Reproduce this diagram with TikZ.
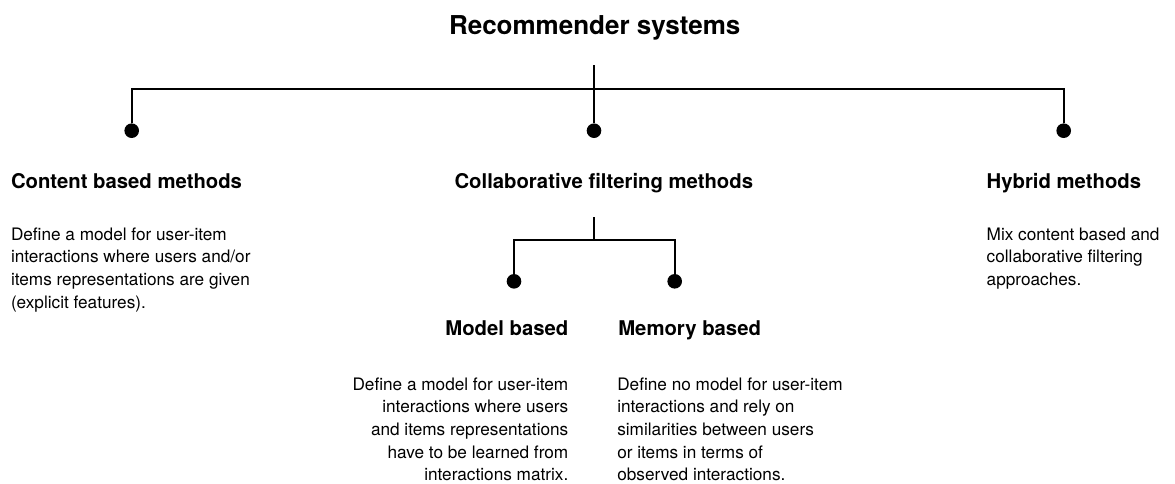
\documentclass[tikz,border=0pt]{standalone}
\usepackage{fontspec}
\setmainfont{TeX Gyre Heros}
\newcommand{\lefttext}[1]{\begin{tabular}[t]{@{}l@{}}#1\end{tabular}}
\newcommand{\righttext}[1]{\begin{tabular}[t]{@{}r@{}}#1\end{tabular}}
\begin{document}
\begin{tikzpicture}[x=1pt,y=-1pt,
  titlefont/.style={font=\bfseries\fontsize{26}{30}\selectfont},
  headfont/.style={font=\bfseries\fontsize{20.3}{24}\selectfont},
  bodyfont/.style={font=\fontsize{17.2}{22.7}\selectfont},
  txt/.style={inner sep=0pt, outer sep=0pt, text=black},
  dot/.style={circle, fill=black, inner sep=0pt, minimum size=14.6pt},
  link/.style={line width=1.7pt, draw=black}
]
\useasboundingbox (0,0) rectangle (1175,483);

% title
\node[txt, titlefont, anchor=base] (root) at (594.7,34.3) {Recommender systems};

% level-1 structure
\coordinate (stem) at (594,65);
\coordinate (bar) at (594,89.3);
\node[dot] (dotC) at (131.7,130.7) {};
\node[dot] (dotF) at (594,130.7) {};
\node[dot] (dotH) at (1063.7,130.7) {};
\draw[link] (stem) -- (dotF);
\draw[link] (dotC) -- (dotC |- bar) -- (dotH |- bar) -- (dotH);

% level-1 headings
\node[txt, headfont, anchor=base west] (hC) at (11,188.3) {Content based methods};
\node[txt, headfont, anchor=base] (hF) at (603.8,188.3) {Collaborative filtering methods};
\node[txt, headfont, anchor=base west] (hH) at (986.7,188.3) {Hybrid methods};

\node[txt, bodyfont, anchor=base west] (bC) at (11,240)
  {\lefttext{Define a model for user-item\\interactions where users and/or\\items representations are given\\(explicit features).}};
\node[txt, bodyfont, anchor=base west] (bH) at (986.7,240)
  {\lefttext{Mix content based and\\collaborative filtering\\approaches.}};

% level-2 structure
\coordinate (substem) at (594.3,217.3);
\coordinate (subbar) at (594.3,240.3);
\node[dot] (dotM) at (514,281.3) {};
\node[dot] (dotY) at (674.7,281.3) {};
\draw[link] (substem) -- (subbar);
\draw[link] (dotM) -- (dotM |- subbar) -- (dotY |- subbar) -- (dotY);

% level-2 headings
\node[txt, headfont, anchor=base east] (hM) at (568.3,335) {Model based};
\node[txt, headfont, anchor=base west] (hY) at (618.3,335) {Memory based};

\node[txt, bodyfont, anchor=base east] (bM) at (568.3,390)
  {\righttext{Define a model for user-item\\interactions where users\\and items representations\\have to be learned from\\interactions matrix.}};
\node[txt, bodyfont, anchor=base west] (bY) at (617.3,390)
  {\lefttext{Define no model for user-item\\interactions and rely on\\similarities between users\\or items in terms of\\observed interactions.}};
\end{tikzpicture}
\end{document}
